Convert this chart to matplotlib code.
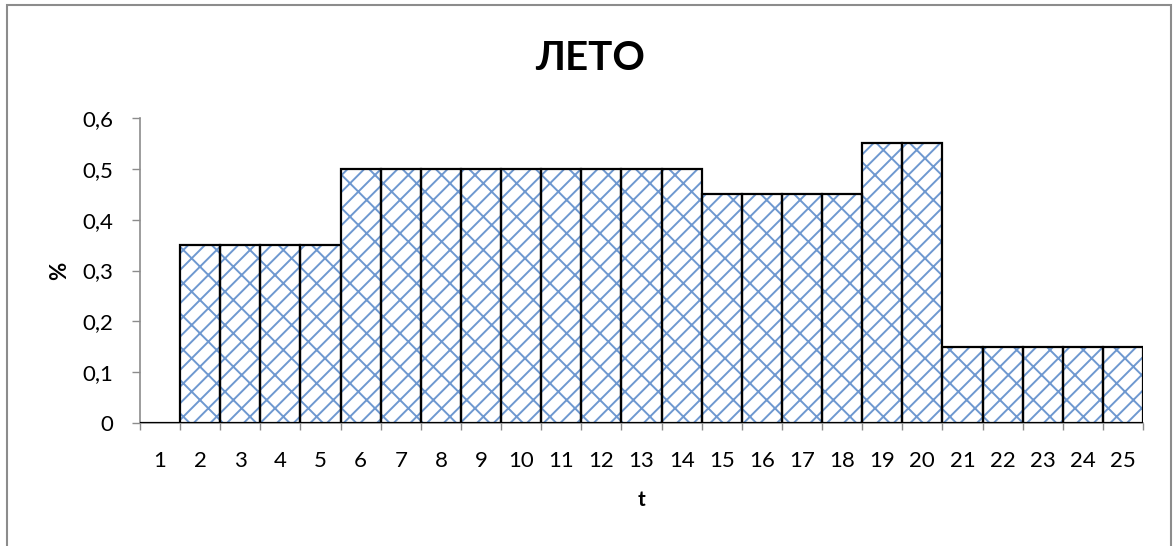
import matplotlib
matplotlib.use("Agg")
import matplotlib.pyplot as plt
from matplotlib.patches import Rectangle
import numpy as np

# Hourly share, summer
hours = list(range(1, 26))
values = [0, 0.35, 0.35, 0.35, 0.35,
          0.5, 0.5, 0.5, 0.5, 0.5, 0.5, 0.5, 0.5, 0.5,
          0.45, 0.45, 0.45, 0.45,
          0.55, 0.55,
          0.15, 0.15, 0.15, 0.15, 0.15]
yticks = [0, 0.1, 0.2, 0.3, 0.4, 0.5, 0.6]
ytick_labels = ["0", "0,1", "0,2", "0,3", "0,4", "0,5", "0,6"]

plt.rcParams['font.family'] = ['Lato', 'DejaVu Sans']
plt.rcParams['hatch.linewidth'] = 1.4

fig = plt.figure(figsize=(11.76, 5.46), dpi=100)
ax = fig.add_axes([140 / 1176, 1 - 423 / 546, (1143 - 140) / 1176, (423 - 118) / 546])

# chart border
fig.patches.append(Rectangle((7 / 1176, -0.05), (1171 - 7) / 1176, 1.05 - 5 / 546,
                             transform=fig.transFigure, fill=False,
                             edgecolor='#8C8C8C', linewidth=1.5))

x = np.arange(len(hours))
# blue lattice fill: dense rising lines, sparser falling lines
ax.bar(x, values, width=1.0, color='white', edgecolor='#6E98D0', linewidth=0,
       hatch='//\\', zorder=3)
# black outlines
ax.bar(x, values, width=1.0, fill=False, edgecolor='black', linewidth=1.6,
       zorder=4)

ax.set_xlim(-0.5, len(hours) - 0.5)
ax.set_ylim(0, 0.6)
ax.set_yticks(yticks)
ax.set_yticklabels(ytick_labels, fontsize=16)
ax.set_xticks(x)
ax.set_xticklabels([str(h) for h in hours], fontsize=16)
ax.set_xticks(np.arange(-0.5, len(hours)), minor=True)
ax.tick_params(axis='x', which='major', length=0, pad=20)
ax.tick_params(axis='x', which='minor', length=5, color='#8C8C8C', width=1)
ax.tick_params(axis='y', length=6, color='#8C8C8C', width=1, pad=13)

for side in ('top', 'right'):
    ax.spines[side].set_visible(False)
for side in ('left', 'bottom'):
    ax.spines[side].set_color('#8C8C8C')
    ax.spines[side].set_linewidth(1.2)

fig.text(590 / 1176, 1 - 58 / 546, "ЛЕТО", fontsize=29, fontweight='bold',
         ha='center', va='center')
ax.set_xlabel("t", fontsize=15, fontweight='bold', labelpad=14)
ax.set_ylabel("%", fontsize=16, fontweight='bold', labelpad=9)

fig.savefig("out.png", dpi=100)
